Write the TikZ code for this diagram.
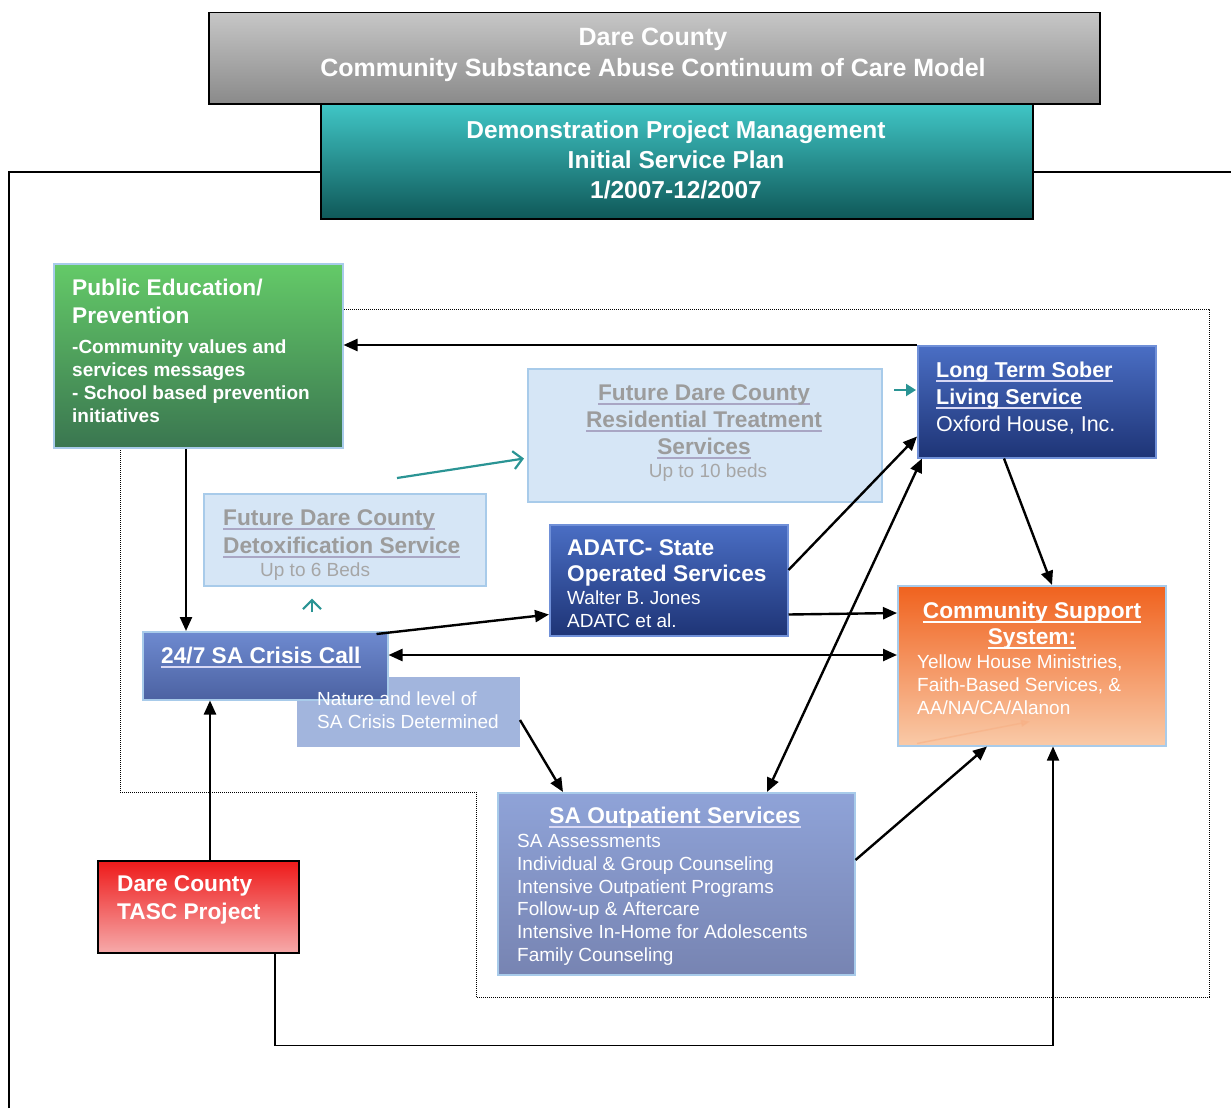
\documentclass[tikz,border=0pt]{standalone}
\usepackage{fontspec}
\setmainfont{Liberation Sans}
\usetikzlibrary{arrows.meta,calc}
\definecolor{gtop}{HTML}{C6C6C6}\definecolor{gbot}{HTML}{8A8A8A}
\definecolor{ttop}{HTML}{40C6C6}\definecolor{tbot}{HTML}{0F5858}
\definecolor{grtop}{HTML}{64CA68}\definecolor{grbot}{HTML}{3A7650}
\definecolor{lbfill}{HTML}{D6E6F6}\definecolor{lbedge}{HTML}{A8CBEA}
\definecolor{dbtop}{HTML}{4A6EC4}\definecolor{dbbot}{HTML}{1E3476}\definecolor{dbedge}{HTML}{7090D8}
\definecolor{ortop}{HTML}{F0621E}\definecolor{orbot}{HTML}{F9CAA8}
\definecolor{crtop}{HTML}{6E8AD0}\definecolor{crbot}{HTML}{4C62A2}
\definecolor{natfill}{HTML}{A2B5DD}
\definecolor{satop}{HTML}{8FA3D8}\definecolor{sabot}{HTML}{7784B2}
\definecolor{rdtop}{HTML}{EE1A1A}\definecolor{rdbot}{HTML}{F6AAAA}
\definecolor{futtext}{HTML}{9C9C9C}\definecolor{futul}{HTML}{A9A6C4}
\definecolor{ullav}{HTML}{D8D8F4}\definecolor{tealarr}{HTML}{2A9494}
\newcommand\myul[2]{\setbox0=\hbox{#2}\rlap{\color{#1}\rule[-5pt]{\wd0}{1.8pt}}\box0}
\tikzset{
  box/.style={anchor=north west, inner sep=0, line width=1.5pt},
  ln/.style={inner sep=0, anchor=base west, text=white},
  lnc/.style={inner sep=0, anchor=base, text=white},
  fh/.style={font=\fontsize{22.7}{27}\selectfont\bfseries},
  fs/.style={font=\fontsize{19}{23}\selectfont},
  fsb/.style={font=\fontsize{19}{23}\selectfont\bfseries},
  arr/.style={draw=black, line width=2.4pt, -{Triangle[length=14pt,width=12pt]}},
  darr/.style={draw=black, line width=2.4pt, {Triangle[length=14pt,width=12pt]}-{Triangle[length=14pt,width=12pt]}},
  tealopen/.style={draw=tealarr, line width=2.2pt, -{Straight Barb[length=9pt,width=18pt,line width=2.2pt]}},
}
\begin{document}
\begin{tikzpicture}[x=1pt,y=-1pt]
\useasboundingbox (0,0) rectangle (1231,1108);
\fill[white] (0,0) rectangle (1231,1108);
% outer frame
\draw[line width=1.5pt] (9,1108) -- (9,172) -- (320,172);
\draw[line width=1.5pt] (1032,172) -- (1231,172);
% dotted region
\draw[line width=1pt, dash pattern=on 1pt off 1pt] (342,309) -- (1209,309) -- (1209,997) -- (476,997) -- (476,792) -- (120,792) -- (120,447);
% title boxes
\node[box, draw=black, top color=gtop, bottom color=gbot, minimum width=891pt, minimum height=91pt] (title) at (208,12) {};
\node[lnc, font=\fontsize{25}{30}\selectfont\bfseries] (title1) at (653,46) {Dare County};
\node[lnc, font=\fontsize{25}{30}\selectfont\bfseries] (title2) at (653,77) {Community Substance Abuse Continuum of Care Model};
\node[box, draw=black, top color=ttop, bottom color=tbot, minimum width=712pt, minimum height=115pt] (plan) at (320,103) {};
\node[lnc, font=\fontsize{24.5}{30}\selectfont\bfseries] (plan1) at (676,138) {Demonstration Project Management};
\node[lnc, font=\fontsize{24.5}{30}\selectfont\bfseries] (plan2) at (676,168) {Initial Service Plan};
\node[lnc, font=\fontsize{24.5}{30}\selectfont\bfseries] (plan3) at (676,198) {1/2007-12/2007};
% public education
\node[box, draw=lbedge, top color=grtop, bottom color=grbot, minimum width=289pt, minimum height=184pt] (pubed) at (53,263) {};
\node[ln, fh] (pe1) at (72,295) {Public Education/};
\node[ln, fh] (pe2) at (72,323) {Prevention};
\node[ln, fsb] (pe3) at (72,353) {-Community values and};
\node[ln, fsb] (pe4) at (72,376) {services messages};
\node[ln, fsb] (pe5) at (72,399) {- School based prevention};
\node[ln, fsb] (pe6) at (72,422) {initiatives};
% residential
\node[box, draw=lbedge, fill=lbfill, minimum width=354pt, minimum height=133pt] (res) at (527,368) {};
\node[lnc, fh, text=futtext] (rs1) at (704,400) {\myul{futul}{Future Dare County}};
\node[lnc, fh, text=futtext] (rs2) at (704,427) {\myul{futul}{Residential Treatment}};
\node[lnc, fh, text=futtext] (rs3) at (704,454) {\myul{futul}{Services}};
\node[lnc, fs, text=futtext!90] (rs4) at (708,477) {Up to 10 beds};
% detox
\node[box, draw=lbedge, fill=lbfill, minimum width=282pt, minimum height=92pt] (detox) at (203,493) {};
\node[ln, fh, text=futtext] (dt1) at (223,525) {\myul{futul}{Future Dare County}};
\node[ln, fh, text=futtext] (dt2) at (223,553) {\myul{futul}{Detoxification Service}};
\node[ln, fs, text=futtext!90] (dt3) at (260,576) {Up to 6 Beds};
% ADATC
\node[box, draw=dbedge, top color=dbtop, bottom color=dbbot, minimum width=238pt, minimum height=111pt] (adatc) at (549,524) {};
\node[ln, fh] (ad1) at (567,555) {ADATC- State};
\node[ln, fh] (ad2) at (567,581) {Operated Services};
\node[ln, fs] (ad3) at (567,604) {Walter B. Jones};
\node[ln, fs] (ad4) at (567,627) {ADATC et al.};
% long term sober
\node[box, draw=dbedge, top color=dbtop, bottom color=dbbot, minimum width=238pt, minimum height=112pt] (lts) at (917,345) {};
\node[ln, fh, font=\fontsize{21.5}{27}\selectfont\bfseries] (lt1) at (936,377) {\myul{ullav}{Long Term Sober}};
\node[ln, fh, font=\fontsize{21.5}{27}\selectfont\bfseries] (lt2) at (936,404) {\myul{ullav}{Living Service}};
\node[ln, font=\fontsize{21.5}{27}\selectfont] (lt3) at (936,431) {Oxford House, Inc.};
% community support
\node[box, draw=lbedge, top color=ortop, bottom color=orbot, minimum width=268pt, minimum height=160pt] (comm) at (897,585) {};
\node[lnc, fh] (cs1) at (1032,618) {\myul{white}{Community Support}};
\node[lnc, fh] (cs2) at (1032,644) {\myul{white}{System:}};
\node[ln, fs] (cs3) at (917,668) {Yellow House Ministries,};
\node[ln, fs] (cs4) at (917,691) {Faith-Based Services, \&};
\node[ln, fs] (cs5) at (917,714) {AA/NA/CA/Alanon};
\draw[draw=ortop!25!orbot, line width=1.5pt, opacity=0.6, -{Triangle[length=9pt,width=7pt]}] ($(comm.south west)+(20,-3)$) -- ($(comm.south west)+(133,-25)$);
% nature (fill below crisis)
\fill[natfill] (297,677) rectangle (520,747);
% crisis call
\node[box, draw=lbedge, top color=crtop, bottom color=crbot, minimum width=245pt, minimum height=68pt] (crisis) at (142,631) {};
\node[ln, fh] (cr1) at (161,663) {\myul{ullav}{24/7 SA Crisis Call}};
\node[box, line width=0pt, minimum width=223pt, minimum height=70pt] (nat) at (297,677) {};
\node[ln, fs] (na1) at (317,705) {Nature and level of};
\node[ln, fs] (na2) at (317,728) {SA Crisis Determined};
% SA outpatient
\node[box, draw=lbedge, top color=satop, bottom color=sabot, minimum width=357pt, minimum height=182pt] (sao) at (497,792) {};
\node[lnc, fh] (so0) at (675,823) {\myul{ullav}{SA Outpatient Services}};
\node[ln, fs] (so1) at (517,847) {SA Assessments};
\node[ln, fs] (so2) at (517,870) {Individual \& Group Counseling};
\node[ln, fs] (so3) at (517,893) {Intensive Outpatient Programs};
\node[ln, fs] (so4) at (517,915) {Follow-up \& Aftercare};
\node[ln, fs] (so5) at (517,938) {Intensive In-Home for Adolescents};
\node[ln, fs] (so6) at (517,961) {Family Counseling};
% TASC
\node[box, draw=black, top color=rdtop, bottom color=rdbot, minimum width=201pt, minimum height=92pt] (tasc) at (97,860) {};
\node[ln, fh] (ta1) at (117,891) {Dare County};
\node[ln, fh] (ta2) at (117,919) {TASC Project};
% connectors
\draw[arr] (lts.north west) -- (pubed.east |- lts.north west);
\draw[arr] ($(pubed.south west)+(133,0)$) -- ($(crisis.north west)+(44,0)$);
\draw[arr] ($(crisis.north east)+(-12,3)$) -- ($(adatc.south west)+(0,-22)$);
\draw[darr] ($(crisis.north east)+(0,24)$) -- ($(comm.north west)+(0,70)$);
\draw[arr] ($(adatc.south east)+(0,-22)$) -- ($(comm.north west)+(0,28)$);
\draw[arr] ($(adatc.north east)+(0,46)$) -- ($(lts.south west)+(0,-22)$);
\draw[darr] ($(sao.north west)+(270,0)$) -- ($(lts.south west)+(5,0)$);
\draw[arr] ($(lts.south west)+(87,0)$) -- ($(comm.north west)+(155,0)$);
\draw[arr] ($(nat.north east)+(0,43)$) -- ($(sao.north west)+(66,0)$);
\draw[arr] ($(sao.north east)+(0,68)$) -- ($(comm.south west)+(90,0)$);
\draw[arr] ($(tasc.north west)+(113,0)$) -- ($(crisis.south west)+(68,0)$);
\draw[arr, line width=1.8pt] ($(tasc.south west)+(178,0)$) |- ($(comm.south west)+(156,299)$) -- ($(comm.south west)+(156,0)$);
% teal arrows
\coordinate (tealA) at (397,478);
\coordinate (tealB) at (312,612);
\coordinate (tealC) at (894,390);
\draw[tealopen] (tealA) -- ($(res.south west)+(-3,-44)$);
\draw[tealopen] (tealB) -- ($(detox.south west)+(109,12)$);
\draw[draw=tealarr, line width=2.2pt, -{Triangle[length=10pt,width=12pt]}] (tealC) -- ($(lts.north west)+(-1,45)$);
\end{tikzpicture}
\end{document}
